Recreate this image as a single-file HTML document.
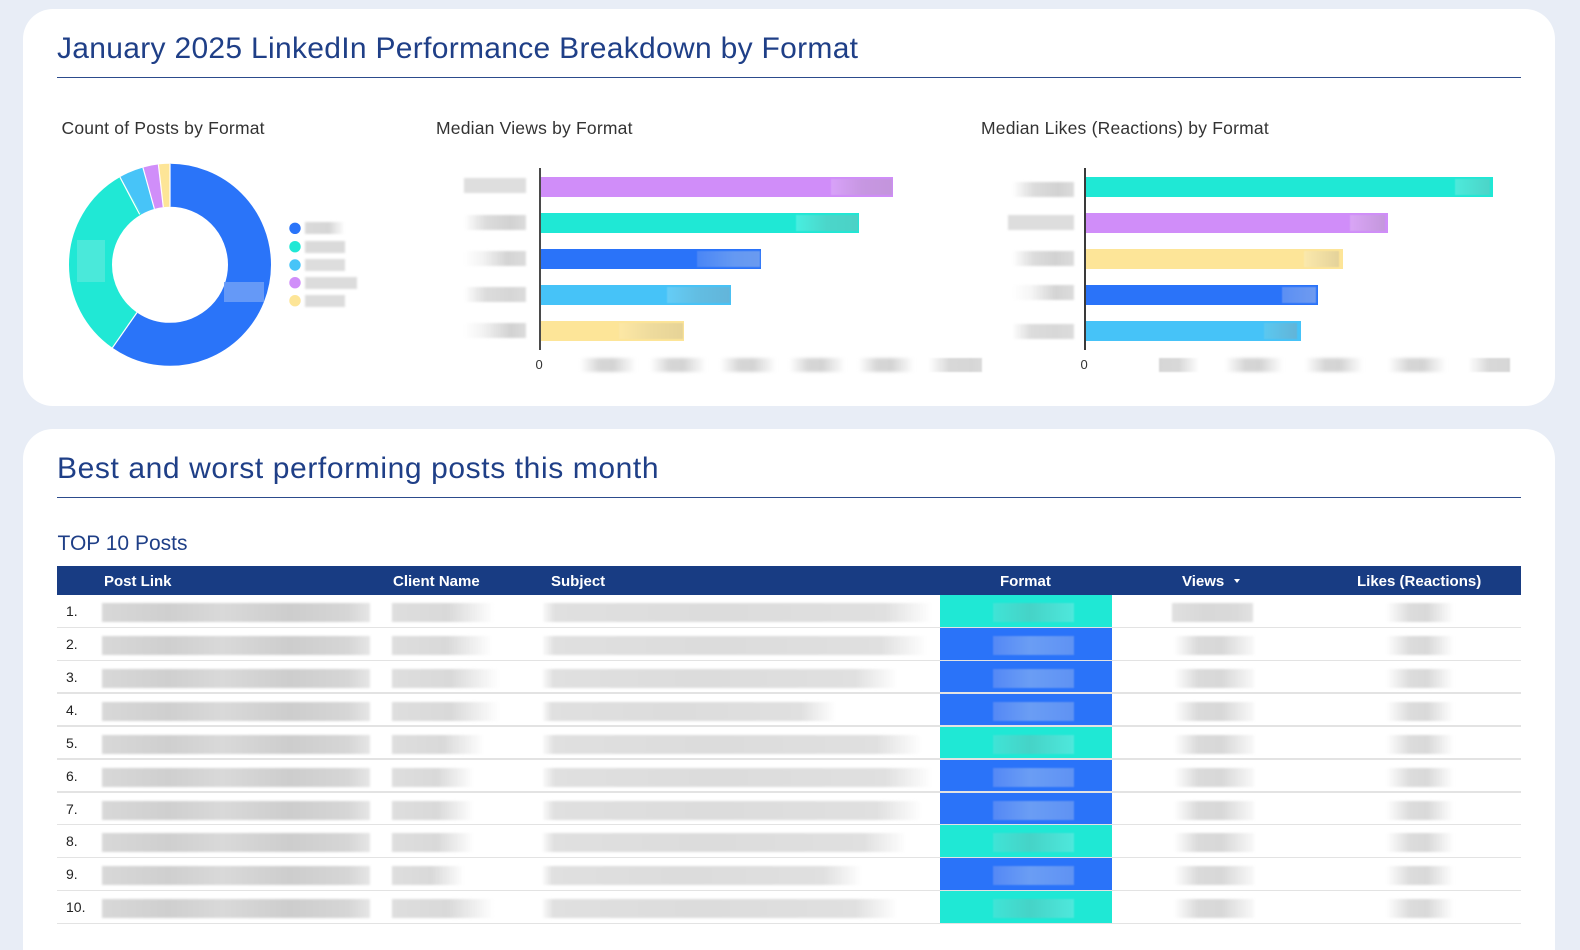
<!DOCTYPE html>
<html><head><meta charset="utf-8">
<style>
*{margin:0;padding:0;box-sizing:border-box}
html,body{width:1580px;height:950px;overflow:hidden;background:#e8edf6;font-family:"Liberation Sans",Arial,sans-serif;position:relative}
.a{position:absolute}
.card{position:absolute;background:#fff;border-radius:30px}
.t{position:absolute;white-space:nowrap;line-height:1}
.h1{font-size:30px;color:#1f3f87}
.rule{position:absolute;height:1.5px;background:#2c4b8c}
.sub{font-size:17.5px;color:#333;letter-spacing:0.2px}
.bar{position:absolute;height:20px}
.patch{position:absolute;top:2px;height:16px;filter:blur(0.6px)}
.lab{position:absolute;height:15px;filter:blur(1px)}
.tk{position:absolute;height:14px;background:linear-gradient(90deg,rgba(232,232,232,0),#d6d6d6 35%,#d4d4d4 60%,rgba(232,232,232,0));filter:blur(1.5px)}
.hd{position:absolute;color:#fff;font-weight:bold;font-size:15px;line-height:1;white-space:nowrap}
.num{position:absolute;font-size:14px;color:#222;line-height:1}
.pl{position:absolute;height:19px;left:102px;width:268px;background:linear-gradient(90deg,#d8d8d8,#cfcfcf 25%,#d9d9d9 45%,#cdcdcd 70%,#d6d6d6 92%,#e6e6e6);filter:blur(1px)}
.cl{position:absolute;height:19px;left:392px;background:linear-gradient(90deg,#dedede,#d9d9d9 55%,rgba(225,225,225,0));filter:blur(1px)}
.sj{position:absolute;height:19px;left:543px;background:linear-gradient(90deg,rgba(226,226,226,0.2),#e0e0e0 3%,#dcdcdc 45%,#e0e0e0 88%,rgba(228,228,228,0));filter:blur(1px)}
.vw{position:absolute;height:19px;left:1174px;width:80px;background:linear-gradient(90deg,rgba(225,225,225,0),#dadada 30%,#d8d8d8 60%,rgba(225,225,225,0.2));filter:blur(1px)}
.lk{position:absolute;height:19px;left:1386px;width:68px;background:linear-gradient(90deg,rgba(228,228,228,0),#dcdcdc 35%,#d9d9d9 60%,rgba(228,228,228,0));filter:blur(1px)}
.fc{position:absolute;left:940px;width:172px;height:32px}
.fp{position:absolute;left:53px;top:8px;width:81px;height:19px;filter:blur(0.8px)}
.teal{background:#1fe8d5}
.blue{background:#2a73f9}
.teal .fp{background:linear-gradient(90deg,#3fe4d6,#45d3c7 45%,#4ee8dc)}
.blue .fp{background:linear-gradient(90deg,#5488f5,#6a9df4 45%,#5f92f3)}
.rl{position:absolute;left:57px;width:1464px;height:1.5px;background:#e3e3e3}
</style></head>
<body>

<!-- Card 1 -->
<div class="card" style="left:23px;top:9px;width:1532px;height:397px"></div>
<div class="t h1" style="left:57px;top:34px;letter-spacing:0.3px">January 2025 LinkedIn Performance Breakdown by Format</div>
<div class="rule" style="left:57px;top:76.5px;width:1464px"></div>

<div class="t sub" style="left:61.5px;top:120px">Count of Posts by Format</div>
<div class="t sub" style="left:436px;top:120px">Median Views by Format</div>
<div class="t sub" style="left:981px;top:120px">Median Likes (Reactions) by Format</div>

<!-- Donut -->
<svg class="a" style="left:0;top:0" width="400" height="400" viewBox="0 0 400 400">
  <g transform="rotate(-90 170 264.8)" fill="none" stroke-width="43">
    <circle cx="170" cy="264.8" r="79.5" stroke="#2a74f9" stroke-dasharray="297.9 600" stroke-dashoffset="0"/>
    <circle cx="170" cy="264.8" r="79.5" stroke="#20e8d5" stroke-dasharray="160.4 600" stroke-dashoffset="-297.9"/>
    <circle cx="170" cy="264.8" r="79.5" stroke="#47c4f8" stroke-dasharray="19.6 600" stroke-dashoffset="-458.3"/>
    <circle cx="170" cy="264.8" r="79.5" stroke="#d08ef9" stroke-dasharray="12.5 600" stroke-dashoffset="-477.9"/>
    <circle cx="170" cy="264.8" r="79.5" stroke="#fde597" stroke-dasharray="9.2 600" stroke-dashoffset="-490.4"/>
  </g>
  <g stroke="#fff" stroke-width="1.2">
    <line x1="170" y1="206.8" x2="170" y2="163.8"/>
    <line x1="137" y1="312.5" x2="112.4" y2="347.8"/>
    <line x1="139.7" y1="214.4" x2="119.9" y2="177"/>
    <line x1="154.4" y1="208.9" x2="142.9" y2="167.5"/>
    <line x1="163.3" y1="207.2" x2="158.4" y2="164.5"/>
  </g>
  <rect x="77" y="240" width="28" height="42" fill="#52e9db" opacity="0.85"/>
  <rect x="224" y="282" width="40" height="20" fill="#6c9df6" opacity="0.9"/>
  <circle cx="295" cy="228.3" r="5.7" fill="#2a74f9"/>
  <circle cx="295" cy="246.7" r="5.7" fill="#20e8d5"/>
  <circle cx="295" cy="265" r="5.7" fill="#47c4f8"/>
  <circle cx="295" cy="282.7" r="5.7" fill="#d08ef9"/>
  <circle cx="295" cy="300.7" r="5.7" fill="#fde597"/>
</svg>
<div class="lab" style="left:305px;top:222px;width:40px;height:12px;background:linear-gradient(90deg,#dadada,#d6d6d6 60%,rgba(230,230,230,0))"></div>
<div class="lab" style="left:305px;top:240.5px;width:40px;height:12px;background:#dadada"></div>
<div class="lab" style="left:305px;top:259px;width:40px;height:12px;background:#dddddd"></div>
<div class="lab" style="left:305px;top:276.5px;width:52px;height:12px;background:#dcdcdc"></div>
<div class="lab" style="left:305px;top:294.5px;width:40px;height:12px;background:#dcdcdc"></div>

<!-- Views chart -->
<div class="a" style="left:539px;top:168px;width:1.7px;height:182px;background:#4a4a4a"></div>
<div class="bar" style="left:541px;top:177px;width:352px;background:#d08df9"><div class="patch" style="left:290px;width:61px;background:linear-gradient(90deg,#d8a2f9,#c797e2 50%,#c495dc)"></div></div>
<div class="bar" style="left:541px;top:213px;width:318px;background:#1fe8d5"><div class="patch" style="left:255px;width:62px;background:linear-gradient(90deg,#48efe0,#4bd6ca 50%,#4cd2c6)"></div></div>
<div class="bar" style="left:541px;top:249px;width:220px;background:#2a73f9"><div class="patch" style="left:156px;width:63px;background:linear-gradient(90deg,#4a86f6,#6599f2 60%,#6a9bf0)"></div></div>
<div class="bar" style="left:541px;top:285px;width:190px;background:#46c3f8"><div class="patch" style="left:126px;width:63px;background:linear-gradient(90deg,#65cdf7,#62bde2 50%,#63b5da)"></div></div>
<div class="bar" style="left:541px;top:321px;width:143px;background:#fde598"><div class="patch" style="left:78px;width:64px;background:linear-gradient(90deg,#fde8a5,#eedb9d 50%,#e6d397)"></div></div>

<div class="lab" style="left:464px;top:178px;width:62px;background:#dedede"></div>
<div class="lab" style="left:464px;top:215px;width:62px;background:linear-gradient(90deg,rgba(230,230,230,0),#dcdcdc 35%,#d2d2d2 75%,#dcdcdc)"></div>
<div class="lab" style="left:464px;top:251px;width:62px;background:linear-gradient(90deg,rgba(230,230,230,0),rgba(225,225,225,0.4) 30%,#d4d4d4 70%,#dcdcdc)"></div>
<div class="lab" style="left:464px;top:287px;width:62px;background:linear-gradient(90deg,rgba(230,230,230,0),#dcdcdc 35%,#d6d6d6 75%,#dcdcdc)"></div>
<div class="lab" style="left:464px;top:323px;width:62px;background:linear-gradient(90deg,rgba(230,230,230,0),rgba(225,225,225,0.4) 30%,#d2d2d2 75%,#dcdcdc)"></div>

<div class="t" style="left:535.5px;top:358px;font-size:13px;color:#333">0</div>
<div class="tk" style="left:580px;top:357.5px;width:56px"></div>
<div class="tk" style="left:650px;top:357.5px;width:56px"></div>
<div class="tk" style="left:720px;top:357.5px;width:56px"></div>
<div class="tk" style="left:789px;top:357.5px;width:56px"></div>
<div class="tk" style="left:858px;top:357.5px;width:56px"></div>
<div class="tk" style="left:928px;top:357.5px;width:54px;background:linear-gradient(90deg,rgba(230,230,230,0),#d8d8d8 40%,#d6d6d6 80%,#dadada);filter:blur(0.8px)"></div>

<!-- Likes chart -->
<div class="a" style="left:1084px;top:168px;width:1.7px;height:182px;background:#3a3a3a"></div>
<div class="bar" style="left:1086px;top:177px;width:407px;background:#1fe8d5"><div class="patch" style="left:369px;width:35px;background:linear-gradient(90deg,#4deadb,#4cd4c8)"></div></div>
<div class="bar" style="left:1086px;top:213px;width:302px;background:#d08df9"><div class="patch" style="left:264px;width:35px;background:linear-gradient(90deg,#d9a5f6,#c497dc)"></div></div>
<div class="bar" style="left:1086px;top:249px;width:257px;background:#fde598"><div class="patch" style="left:218px;width:35px;background:linear-gradient(90deg,#fbe9ac,#e4d29a)"></div></div>
<div class="bar" style="left:1086px;top:285px;width:232px;background:#2a73f9"><div class="patch" style="left:196px;width:34px;background:linear-gradient(90deg,#5b8ff4,#6f9bf0)"></div></div>
<div class="bar" style="left:1086px;top:321px;width:215px;background:#46c3f8"><div class="patch" style="left:178px;width:33px;background:linear-gradient(90deg,#5bc8f0,#62b4d8)"></div></div>

<div class="lab" style="left:1012px;top:182px;width:62px;background:linear-gradient(90deg,rgba(230,230,230,0),#dcdcdc 35%,#d2d2d2 75%,#dcdcdc)"></div>
<div class="lab" style="left:1008px;top:215px;width:66px;background:#dddddd"></div>
<div class="lab" style="left:1012px;top:251px;width:62px;background:linear-gradient(90deg,rgba(230,230,230,0),#dcdcdc 35%,#d2d2d2 70%,#dcdcdc)"></div>
<div class="lab" style="left:1012px;top:285px;width:62px;background:linear-gradient(90deg,rgba(230,230,230,0),rgba(225,225,225,0.3) 30%,#d4d4d4 70%,#dcdcdc)"></div>
<div class="lab" style="left:1012px;top:324px;width:62px;background:linear-gradient(90deg,rgba(230,230,230,0),#dcdcdc 30%,#d8d8d8 70%,#dcdcdc)"></div>

<div class="t" style="left:1080.5px;top:358px;font-size:13px;color:#333">0</div>
<div class="tk" style="left:1159px;top:357.5px;width:40px;background:linear-gradient(90deg,#d6d6d6,#d8d8d8 50%,rgba(230,230,230,0));filter:blur(0.8px)"></div>
<div class="tk" style="left:1225px;top:357.5px;width:58px"></div>
<div class="tk" style="left:1305px;top:357.5px;width:58px"></div>
<div class="tk" style="left:1388px;top:357.5px;width:58px"></div>
<div class="tk" style="left:1468px;top:357.5px;width:42px;background:linear-gradient(90deg,rgba(230,230,230,0),#d8d8d8 50%,#d6d6d6);filter:blur(0.8px)"></div>

<!-- Card 2 -->
<div class="card" style="left:23px;top:429px;width:1532px;height:560px"></div>
<div class="t h1" style="left:57px;top:454px;letter-spacing:0.6px">Best and worst performing posts this month</div>
<div class="rule" style="left:57px;top:496.5px;width:1464px"></div>
<div class="t" style="left:57.5px;top:533px;font-size:21px;color:#1f3f87">TOP 10 Posts</div>

<!-- Table header -->
<div class="a" style="left:57px;top:566px;width:1464px;height:29px;background:#183c83"></div>
<div class="hd" style="left:104px;top:574px">Post Link</div>
<div class="hd" style="left:393px;top:574px">Client Name</div>
<div class="hd" style="left:551px;top:574px">Subject</div>
<div class="hd" style="left:1000px;top:574px">Format</div>
<div class="hd" style="left:1182px;top:574px">Views</div>
<div class="a" style="left:1234px;top:579px;width:0;height:0;border-left:3.5px solid transparent;border-right:3.5px solid transparent;border-top:4px solid #fff"></div>
<div class="hd" style="left:1357px;top:574px">Likes (Reactions)</div>

<!-- Rows -->
<div class="fc teal" style="top:595px"><div class="fp"></div></div>
<div class="num" style="left:66px;top:604px">1.</div>
<div class="pl" style="top:603px"></div>
<div class="cl" style="top:603px;width:102px"></div>
<div class="sj" style="top:603px;width:389px"></div>
<div class="vw" style="top:603px;left:1172px;width:81px;background:linear-gradient(90deg,#e0e0e0,#d8d8d8 40%,#dadada 80%,#e2e2e2)"></div>
<div class="lk" style="top:603px"></div>
<div class="rl" style="top:626.5px"></div>

<div class="fc blue" style="top:628px"><div class="fp"></div></div>
<div class="num" style="left:66px;top:637px">2.</div>
<div class="pl" style="top:636px"></div>
<div class="cl" style="top:636px;width:100px"></div>
<div class="sj" style="top:636px;width:384px"></div>
<div class="vw" style="top:636px"></div>
<div class="lk" style="top:636px"></div>
<div class="rl" style="top:659.5px"></div>

<div class="fc blue" style="top:661px"><div class="fp"></div></div>
<div class="num" style="left:66px;top:670px">3.</div>
<div class="pl" style="top:669px"></div>
<div class="cl" style="top:669px;width:107px"></div>
<div class="sj" style="top:669px;width:354px"></div>
<div class="vw" style="top:669px"></div>
<div class="lk" style="top:669px"></div>
<div class="rl" style="top:692px"></div>

<div class="fc blue" style="top:693.5px"><div class="fp"></div></div>
<div class="num" style="left:66px;top:702.5px">4.</div>
<div class="pl" style="top:701.5px"></div>
<div class="cl" style="top:701.5px;width:107px"></div>
<div class="sj" style="top:701.5px;width:293px"></div>
<div class="vw" style="top:701.5px"></div>
<div class="lk" style="top:701.5px"></div>
<div class="rl" style="top:725px"></div>

<div class="fc teal" style="top:726.5px"><div class="fp"></div></div>
<div class="num" style="left:66px;top:735.5px">5.</div>
<div class="pl" style="top:734.5px"></div>
<div class="cl" style="top:734.5px;width:92px"></div>
<div class="sj" style="top:734.5px;width:379px"></div>
<div class="vw" style="top:734.5px"></div>
<div class="lk" style="top:734.5px"></div>
<div class="rl" style="top:758px"></div>

<div class="fc blue" style="top:759.5px"><div class="fp"></div></div>
<div class="num" style="left:66px;top:768.5px">6.</div>
<div class="pl" style="top:767.5px"></div>
<div class="cl" style="top:767.5px;width:82px"></div>
<div class="sj" style="top:767.5px;width:389px"></div>
<div class="vw" style="top:767.5px"></div>
<div class="lk" style="top:767.5px"></div>
<div class="rl" style="top:791px"></div>

<div class="fc blue" style="top:792.5px"><div class="fp"></div></div>
<div class="num" style="left:66px;top:801.5px">7.</div>
<div class="pl" style="top:800.5px"></div>
<div class="cl" style="top:800.5px;width:82px"></div>
<div class="sj" style="top:800.5px;width:379px"></div>
<div class="vw" style="top:800.5px"></div>
<div class="lk" style="top:800.5px"></div>
<div class="rl" style="top:823.5px"></div>

<div class="fc teal" style="top:825px"><div class="fp"></div></div>
<div class="num" style="left:66px;top:834px">8.</div>
<div class="pl" style="top:833px"></div>
<div class="cl" style="top:833px;width:82px"></div>
<div class="sj" style="top:833px;width:364px"></div>
<div class="vw" style="top:833px"></div>
<div class="lk" style="top:833px"></div>
<div class="rl" style="top:856.5px"></div>

<div class="fc blue" style="top:858px"><div class="fp"></div></div>
<div class="num" style="left:66px;top:867px">9.</div>
<div class="pl" style="top:866px"></div>
<div class="cl" style="top:866px;width:72px"></div>
<div class="sj" style="top:866px;width:319px"></div>
<div class="vw" style="top:866px"></div>
<div class="lk" style="top:866px"></div>
<div class="rl" style="top:889.5px"></div>

<div class="fc teal" style="top:891px"><div class="fp"></div></div>
<div class="num" style="left:66px;top:900px">10.</div>
<div class="pl" style="top:899px"></div>
<div class="cl" style="top:899px;width:102px"></div>
<div class="sj" style="top:899px;width:354px"></div>
<div class="vw" style="top:899px"></div>
<div class="lk" style="top:899px"></div>
<div class="rl" style="top:922.5px"></div>

</body></html>
